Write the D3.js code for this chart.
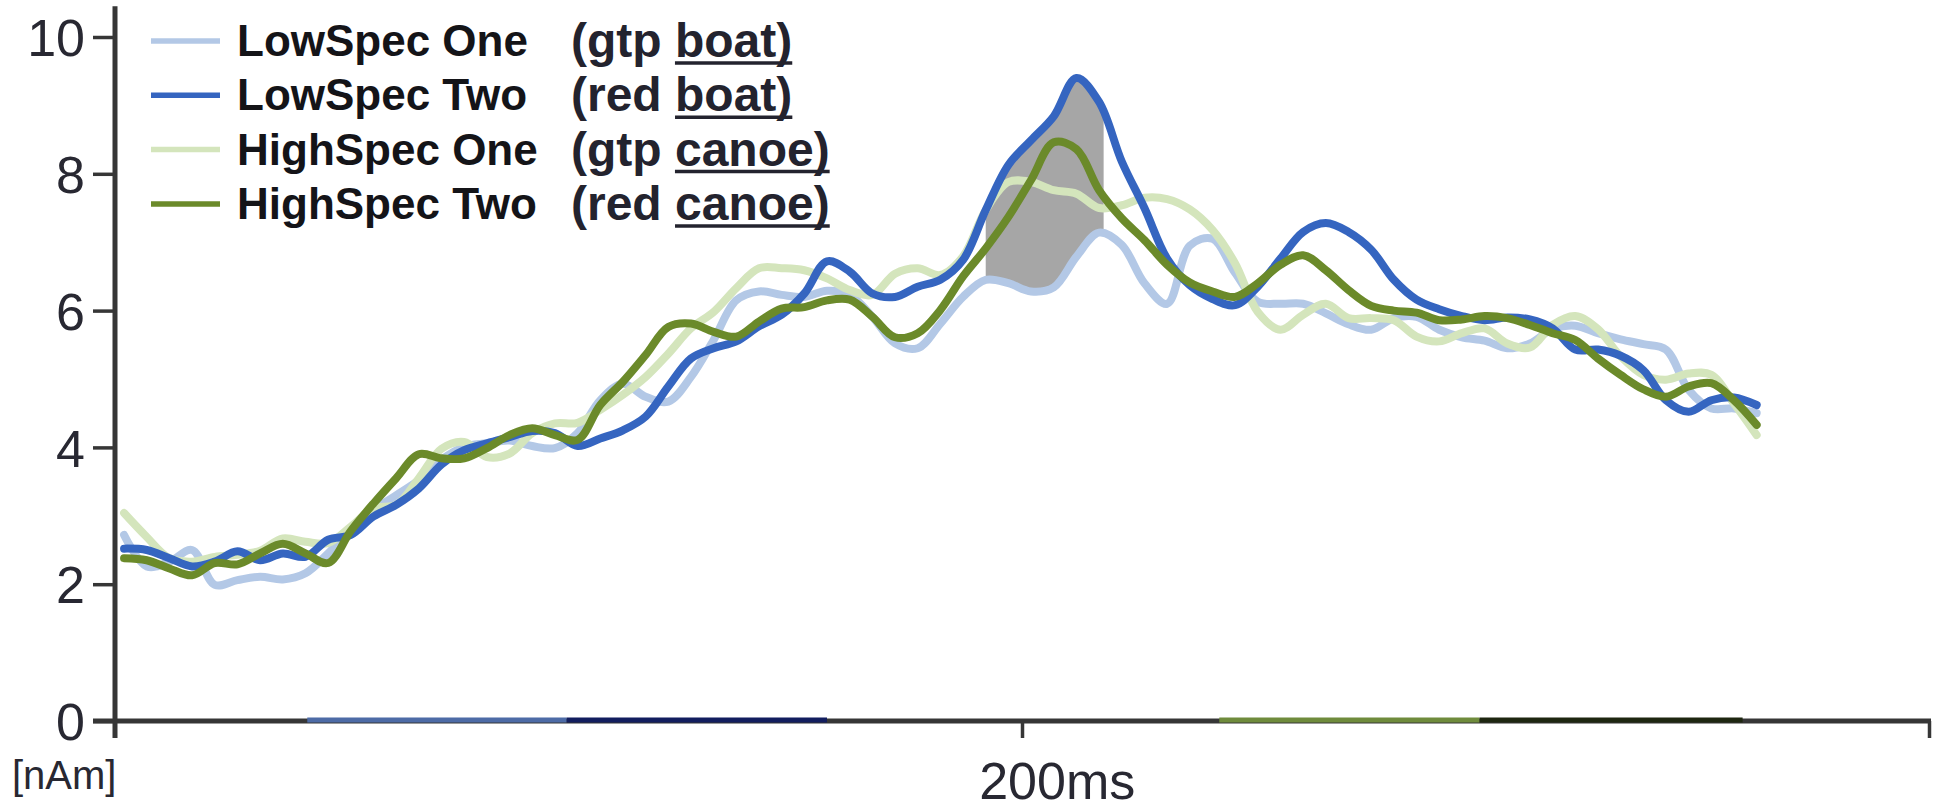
<!DOCTYPE html>
<html>
<head>
<meta charset="utf-8">
<script src="https://cdn.jsdelivr.net/npm/d3@7"></script>
<style>
  html, body { margin: 0; padding: 0; background: #ffffff; }
  svg { display: block; }
  text { font-family: "Liberation Sans", Arial, Helvetica, sans-serif; }
</style>
</head>
<body>
<svg id="chart" width="1939" height="809"></svg>
<script>
// Sample times (ms after stimulus onset)
const times = [2,7,12,17,22,27,32,37,42,47,52,57,62,67,72,77,82,87,92,97,
  102,107,112,117,122,127,132,137,142,147,152,157,162,167,172,177,182,187,192,197,
  202,207,212,217,222,227,232,237,242,247,252,257,262,267,272,277,282,287,292,297,
  302,307,312,317,322,327,332,337,342,347,352,357,362];

// Source amplitudes (nAm), one array per condition
const lowSpecOne = [2.72,2.26,2.33,2.50,1.99,2.06,2.11,2.07,2.16,2.45,
  2.79,3.08,3.30,3.52,3.82,4.01,4.06,4.10,4.02,3.99,
  4.21,4.69,4.93,4.74,4.67,5.03,5.57,6.15,6.28,6.23,
  6.20,6.29,6.23,5.91,5.52,5.45,5.81,6.20,6.45,6.40,
  6.28,6.34,6.79,7.14,6.96,6.40,6.10,6.95,7.05,6.55,
  6.13,6.10,6.10,5.96,5.80,5.72,5.89,5.91,5.72,5.61,
  5.56,5.45,5.52,5.73,5.78,5.67,5.58,5.51,5.43,4.84,
  4.57,4.57,4.50];

const lowSpecTwo = [2.52,2.50,2.38,2.26,2.33,2.48,2.35,2.45,2.40,2.65,
  2.72,2.99,3.16,3.40,3.75,3.96,4.06,4.15,4.24,4.21,
  4.02,4.13,4.25,4.45,4.89,5.30,5.45,5.55,5.77,5.94,
  6.25,6.72,6.57,6.25,6.20,6.35,6.45,6.74,7.47,8.13,
  8.49,8.84,9.40,9.05,8.18,7.50,6.76,6.37,6.17,6.08,
  6.35,6.76,7.15,7.28,7.15,6.89,6.45,6.16,6.02,5.92,
  5.86,5.90,5.87,5.74,5.43,5.43,5.34,5.13,4.69,4.52,
  4.69,4.73,4.62];

const highSpecOne = [3.04,2.69,2.38,2.33,2.40,2.43,2.49,2.67,2.62,2.60,
  2.84,3.11,3.16,3.55,3.98,4.08,3.86,3.91,4.21,4.35,
  4.36,4.55,4.77,5.03,5.37,5.74,5.98,6.33,6.62,6.62,
  6.59,6.47,6.30,6.23,6.54,6.62,6.52,6.79,7.47,7.88,
  7.88,7.76,7.71,7.50,7.54,7.65,7.63,7.48,7.18,6.69,
  5.98,5.72,5.94,6.10,5.89,5.89,5.86,5.62,5.55,5.67,
  5.74,5.52,5.46,5.79,5.92,5.73,5.33,5.06,4.99,5.08,
  5.06,4.64,4.18];

const highSpecTwo = [2.38,2.35,2.23,2.13,2.31,2.29,2.45,2.59,2.45,2.31,
  2.78,3.18,3.55,3.90,3.84,3.84,3.99,4.18,4.28,4.18,
  4.11,4.62,4.96,5.35,5.76,5.81,5.69,5.62,5.84,6.03,
  6.05,6.15,6.16,5.91,5.61,5.67,6.01,6.50,6.91,7.37,
  7.91,8.46,8.36,7.76,7.35,7.03,6.67,6.41,6.28,6.20,
  6.40,6.67,6.81,6.59,6.30,6.07,6.00,5.97,5.86,5.87,
  5.92,5.89,5.79,5.67,5.57,5.30,5.06,4.85,4.74,4.89,
  4.94,4.69,4.33];

const seriesNames = ["LowSpec One", "LowSpec Two", "HighSpec One", "HighSpec Two"];
const conditionPrefix = ["(gtp ", "(red ", "(gtp ", "(red "];
const conditionObject = ["boat)", "boat)", "canoe)", "canoe)"];
const seriesColors = ["#b3c8e6", "#3565c0", "#d4e5bc", "#6b8a2a"];
const seriesValues = [lowSpecOne, lowSpecTwo, highSpecOne, highSpecTwo];

const yTicks = [0, 2, 4, 6, 8, 10];
const xTicks = [200, 400];
const xTickLabels = ["200ms", ""];
const yUnitLabel = "[nAm]";

// Window where LowSpec Two exceeds LowSpec One (shaded)
const shadeWindow = [192, 218];

// Significance intervals marked along the time axis (ms)
const sigStarts = [42.4, 99.6, 243.5, 300.9];
const sigEnds = [99.6, 157.0, 300.9, 358.9];
const sigColors = ["#4d6ba6", "#121d5e", "#6f8b3c", "#1e2610"];

// ---- layout ----
const svg = d3.select("#chart");
const x = d3.scaleLinear().domain([0, 400]).range([115, 1929]);
const y = d3.scaleLinear().domain([0, 10]).range([721, 37]);
const axisColor = "#363636";

const rows = times.map((t, i) => ({
  t,
  v: seriesValues.map(s => s[i])
}));

const curve = d3.curveCatmullRom.alpha(0.5);

// shaded difference between the two LowSpec traces
svg.append("clipPath").attr("id", "shadeClip")
  .append("rect")
  .attr("x", x(shadeWindow[0]))
  .attr("width", x(shadeWindow[1]) - x(shadeWindow[0]))
  .attr("y", 0).attr("height", 809);

svg.append("path")
  .datum(rows)
  .attr("clip-path", "url(#shadeClip)")
  .attr("fill", "#a6a6a6")
  .attr("d", d3.area().curve(curve)
    .x(d => x(d.t))
    .y0(d => y(d.v[0]))
    .y1(d => y(d.v[1])));

// traces
const drawOrder = [0, 2, 1, 3];
drawOrder.forEach(k => {
  svg.append("path")
    .datum(rows)
    .attr("fill", "none")
    .attr("stroke", seriesColors[k])
    .attr("stroke-width", 8)
    .attr("stroke-linejoin", "round")
    .attr("stroke-linecap", "round")
    .attr("d", d3.line().curve(curve).x(d => x(d.t)).y(d => y(d.v[k])));
});

// y axis
const yAxis = svg.append("g")
  .attr("transform", `translate(${x(0)},0)`)
  .call(d3.axisLeft(y).tickValues(yTicks).tickSize(22).tickPadding(8).tickFormat(d3.format("d")));
yAxis.select(".domain").remove();
yAxis.selectAll(".tick line").attr("stroke", axisColor).attr("stroke-width", 3.5);
yAxis.selectAll(".tick text")
  .attr("fill", "#282832")
  .style("font-size", "52px")
  .attr("dy", "0.36em");
yAxis.append("line")
  .attr("x1", 0).attr("x2", 0)
  .attr("y1", y(10.45)).attr("y2", y(-0.25))
  .attr("stroke", axisColor).attr("stroke-width", 5);

// x axis
const xAxis = svg.append("g")
  .attr("transform", `translate(0,${y(0)})`)
  .call(d3.axisBottom(x).tickValues(xTicks).tickSize(17).tickSizeOuter(0)
    .tickFormat((d, i) => xTickLabels[i]));
xAxis.select(".domain").remove();
xAxis.selectAll(".tick line").attr("stroke", axisColor).attr("stroke-width", 3.5);
xAxis.append("line")
  .attr("x1", x(0) - 22).attr("x2", x(400) + 2)
  .attr("y1", 0).attr("y2", 0)
  .attr("stroke", axisColor).attr("stroke-width", 5);
xAxis.selectAll(".tick text")
  .attr("fill", "#282832")
  .style("font-size", "52px")
  .attr("text-anchor", "start")
  .attr("y", 78).attr("dy", 0)
  .each(function () {
    const n = this.getNumberOfChars();
    if (n >= 3) {
      const half = this.getSubStringLength(0, 3) / 2;
      d3.select(this).attr("x", -half);
    }
  });

// significance bars along the time axis
sigStarts.forEach((s, i) => {
  svg.append("line")
    .attr("x1", x(s)).attr("x2", x(sigEnds[i]))
    .attr("y1", y(0) - 1).attr("y2", y(0) - 1)
    .attr("stroke", sigColors[i]).attr("stroke-width", 5);
});

// unit label
svg.append("text")
  .attr("x", 12).attr("y", 789)
  .attr("fill", "#282832")
  .style("font-size", "40px")
  .text(yUnitLabel);

// legend
const legend = svg.append("g");
seriesNames.forEach((name, i) => {
  const ry = 41 + i * 54.3;
  legend.append("line")
    .attr("x1", 151).attr("x2", 220)
    .attr("y1", ry).attr("y2", ry)
    .attr("stroke", seriesColors[i]).attr("stroke-width", 5.5);
  legend.append("text")
    .attr("x", 237).attr("y", ry + 15)
    .attr("fill", "#141418")
    .style("font-size", "44px").style("font-weight", "bold")
    .text(name);
  const cond = legend.append("text")
    .attr("x", 571).attr("y", ry + 16)
    .attr("fill", "#23232e")
    .style("font-size", "48px").style("font-weight", "bold")
    .text(conditionPrefix[i] + conditionObject[i]);
  const node = cond.node();
  const pre = conditionPrefix[i].length;
  const startX = 571 + node.getSubStringLength(0, pre);
  const endX = 571 + node.getComputedTextLength();
  legend.append("line")
    .attr("x1", startX).attr("x2", endX)
    .attr("y1", ry + 22).attr("y2", ry + 22)
    .attr("stroke", "#23232e").attr("stroke-width", 3.5);
});
</script>
</body>
</html>
